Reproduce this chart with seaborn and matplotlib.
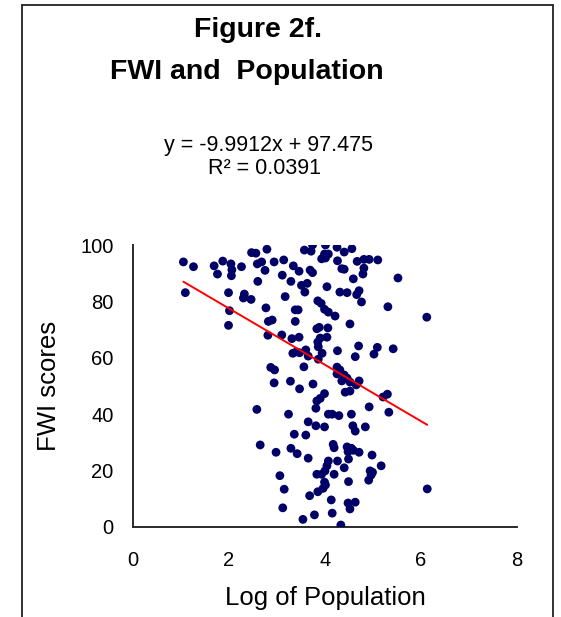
import matplotlib
matplotlib.use("Agg")
import matplotlib.pyplot as plt
import seaborn as sns
import pandas as pd
import numpy as np
from matplotlib.lines import Line2D

# ---- data ----
log_population = [
    1.05, 1.26, 1.69, 1.87, 1.76, 2.04, 2.06, 2.05, 2.26, 2.47, 2.56, 2.79, 2.59, 2.68, 2.75, 2.94, 2.60, 1.09, 1.99, 2.32,
    2.30, 2.46, 2.01, 2.77, 1.99, 2.82, 2.90, 2.81, 2.87, 2.95, 2.94,
    3.74, 4.01, 4.25, 3.57, 3.71, 3.99, 4.07, 3.93, 4.01, 4.26, 3.14, 3.34, 3.46, 3.69, 3.74, 4.35, 3.11, 3.29, 3.51, 3.63,
    4.04, 4.31, 3.58, 3.17, 3.85, 3.92, 3.99, 4.07, 4.21, 3.38, 3.44, 3.38, 3.83, 3.88, 4.06, 4.04, 3.85, 3.90, 3.86, 3.94,
    3.31, 3.46, 3.33, 3.40, 3.47, 3.60, 3.65, 3.86, 4.26, 3.56, 3.28, 3.10, 4.25, 4.31, 4.25, 4.40, 4.46, 4.35, 4.52, 4.71,
    4.65, 3.75, 3.47,
    4.40, 4.56, 4.67, 4.81, 4.92, 5.10, 4.40, 4.81, 4.79, 4.59, 5.52, 4.46, 4.66, 4.71, 4.76, 5.31, 6.12, 4.52, 4.70, 4.63,
    5.09, 5.02, 5.42,
    2.58, 2.65, 2.98, 3.06, 3.12, 3.15, 3.24, 3.29, 3.42, 3.36, 3.60, 3.65, 3.81, 3.99, 3.65, 3.83, 3.90, 3.99, 3.81, 4.07,
    4.15, 4.29, 4.17, 4.19, 4.26, 4.07, 4.04, 4.00, 3.93, 3.83, 4.19, 4.40, 3.99, 4.01, 3.96, 3.85, 4.13, 3.68, 3.78, 4.15,
    3.54, 4.33,
    4.42, 4.52, 5.21, 5.30, 4.92, 5.33, 4.55, 4.58, 4.63, 4.84, 4.46, 4.55, 4.48, 4.59, 4.71, 4.98, 4.49, 5.17, 4.94, 4.99,
    4.96, 4.91, 4.49, 6.13, 4.48, 4.63, 4.52,
]
fwi_scores = [
    94.0, 92.3, 92.6, 94.3, 89.7, 93.3, 91.2, 89.1, 92.3, 97.3, 97.1, 98.5, 93.3, 94.0, 91.0, 94.0, 87.1, 83.1, 83.1, 82.6,
    81.2, 80.7, 76.7, 77.7, 71.5, 72.9, 73.4, 68.0, 56.6, 55.7, 51.1,
    100.0, 100.0, 99.2, 98.2, 97.8, 96.8, 96.8, 95.1, 95.4, 94.4, 94.7, 92.6, 90.7, 91.1, 90.2, 91.6, 89.3, 87.1, 85.7, 86.4,
    85.2, 83.3, 83.3, 81.7, 80.2, 79.3, 77.2, 76.2, 74.8, 77.0, 77.0, 72.9, 70.3, 70.8, 70.6, 67.3, 65.6, 67.0, 63.9, 61.6,
    66.8, 67.3, 61.6, 62.1, 61.8, 62.8, 60.6, 59.5, 62.5, 56.8, 51.7, 68.1, 56.7, 55.7, 54.3, 53.9, 52.8, 51.8, 51.4, 51.8,
    50.4, 50.7, 49.0,
    97.5, 98.7, 94.2, 94.9, 94.9, 94.7, 91.4, 91.8, 89.7, 88.0, 88.3, 83.1, 82.4, 83.8, 79.8, 78.1, 74.4, 72.0, 64.2, 60.4,
    63.7, 61.3, 63.2,
    41.7, 29.1, 26.5, 18.2, 6.8, 13.4, 40.0, 27.9, 26.0, 32.9, 32.6, 37.3, 35.9, 35.5, 24.4, 44.7, 45.6, 47.3, 42.1, 40.0,
    40.0, 39.5, 29.3, 28.1, 23.4, 23.4, 21.7, 19.9, 18.7, 18.7, 18.7, 21.0, 15.9, 14.9, 13.7, 12.5, 9.6, 11.1, 4.3, 4.9,
    2.7, 0.7,
    47.8, 48.2, 46.1, 47.1, 42.6, 40.7, 40.0, 35.9, 34.0, 35.5, 28.4, 27.9, 26.7, 27.2, 26.5, 25.5, 24.1, 21.7, 19.9, 19.4,
    18.4, 16.6, 16.1, 13.5, 8.5, 8.8, 6.4,
]
slope = -9.9912
intercept = 97.475
r_squared = 0.0391
x_ticks = [0, 2, 4, 6, 8]
y_ticks = [0, 20, 40, 60, 80, 100]

title_lines = ["Figure 2f.", "FWI and  Population"]
x_label = "Log of Population"
y_label = "FWI scores"

# ---- style ----
sns.set_style("white")
plt.rcParams["font.family"] = ["Liberation Sans", "DejaVu Sans"]
plt.rcParams["text.color"] = "black"
plt.rcParams["axes.labelcolor"] = "black"
plt.rcParams["xtick.color"] = "black"
plt.rcParams["ytick.color"] = "black"

fig = plt.figure(figsize=(5.61, 6.17), dpi=100)
ax = fig.add_axes([133 / 561, 90 / 617, 384 / 561, 282 / 617])

df = pd.DataFrame({"x": log_population, "y": fwi_scores})
sns.scatterplot(data=df, x="x", y="y", ax=ax, color="#000066", s=40,
                edgecolor="none", linewidth=0, zorder=3)

xmin, xmax = min(log_population), max(log_population)
line_df = pd.DataFrame({"x": [xmin, xmax],
                        "y": [intercept + slope * xmin, intercept + slope * xmax]})
sns.lineplot(data=line_df, x="x", y="y", ax=ax, color="#ff0000", linewidth=1.4, zorder=4)

ax.set_xlim(0, 8)
ax.set_ylim(0, 100)
ax.set_xticks(x_ticks)
ax.set_yticks(y_ticks)
ax.tick_params(axis="both", length=0, labelsize=14.5, colors="black")
ax.tick_params(axis="x", pad=17)
ax.tick_params(axis="y", pad=14)
ax.set_xlabel(x_label, fontsize=18.5, labelpad=12, color="black")
ax.set_ylabel(y_label, fontsize=18.5, labelpad=14, color="black")
for side in ["top", "right"]:
    ax.spines[side].set_visible(False)
for side in ["left", "bottom"]:
    ax.spines[side].set_color("#2a2a2a")
    ax.spines[side].set_linewidth(1.4)
ax.grid(False)

# titles and equation
fig.text(257.6 / 561, 1 - 30 / 617, title_lines[0], ha="center", va="center",
         fontsize=20.5, fontweight="bold", color="black")
fig.text(247 / 561, 1 - 72 / 617, title_lines[1], ha="center", va="center",
         fontsize=20.5, fontweight="bold", color="black")
fig.text(268.5 / 561, 1 - 145 / 617, f"y = {slope}x + {intercept}", ha="center", va="center",
         fontsize=15.5, color="black")
fig.text(264 / 561, 1 - 168 / 617, f"R² = {r_squared}", ha="center", va="center",
         fontsize=15.5, color="black")

# outer chart border (open at bottom, as cropped)
lc = "#222222"
fig.add_artist(Line2D([21.5 / 561, 21.5 / 561], [0, 1 - 5 / 617], color=lc, lw=1.3, transform=fig.transFigure))
fig.add_artist(Line2D([21.5 / 561, 553 / 561], [1 - 5 / 617, 1 - 5 / 617], color=lc, lw=1.3, transform=fig.transFigure))
fig.add_artist(Line2D([553 / 561, 553 / 561], [0, 1 - 5 / 617], color=lc, lw=1.3, transform=fig.transFigure))

fig.savefig("out.png", dpi=100)
